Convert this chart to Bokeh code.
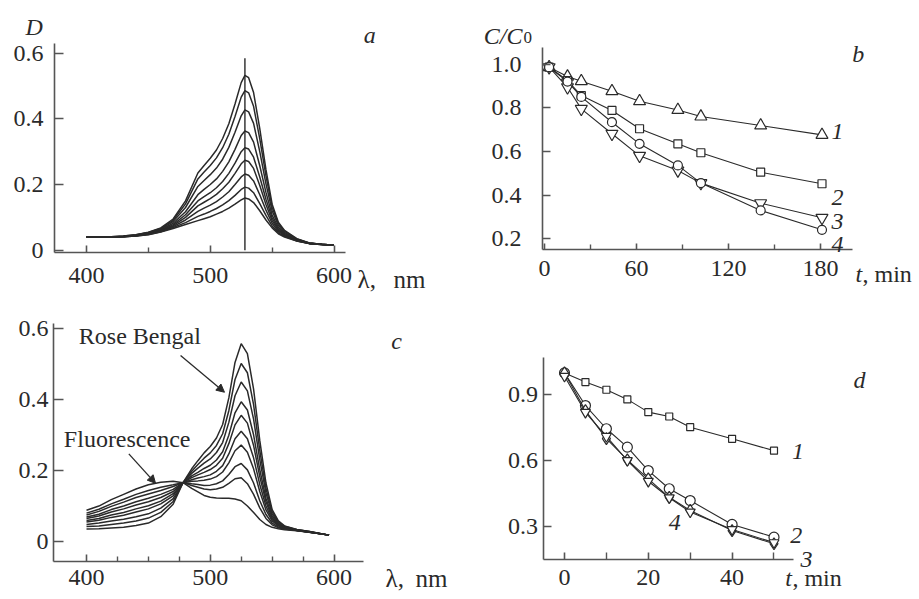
from bokeh.plotting import figure
from bokeh.models import (FixedTicker, Label, Arrow, NormalHead, Range1d, PrintfTickFormatter)
from bokeh.layouts import column, row
from bokeh.embed import file_html
from bokeh.resources import INLINE

SERIF = "Liberation Serif"
INK = "#2a2a2a"
AXIS = "#555555"

# ---------------- panel a : absorption spectra during irradiation ----------------
a_wl = [400, 410, 420, 430, 440, 450, 460, 470, 480, 490, 495, 500, 505, 510, 515,
        520, 525, 528, 531, 535, 540, 545, 550, 555, 560, 570, 580, 590, 600]
a_D1 = [0.040, 0.040, 0.041, 0.043, 0.047, 0.055, 0.068, 0.095, 0.150, 0.235, 0.258, 0.280, 0.305, 0.340, 0.385,
        0.445, 0.510, 0.532, 0.525, 0.480, 0.370, 0.245, 0.140, 0.085, 0.060, 0.035, 0.022, 0.018, 0.015]
a_D2 = [0.040, 0.040, 0.041, 0.043, 0.047, 0.054, 0.066, 0.091, 0.141, 0.217, 0.238, 0.258, 0.281, 0.312, 0.353,
        0.407, 0.466, 0.486, 0.479, 0.438, 0.339, 0.226, 0.131, 0.081, 0.058, 0.034, 0.022, 0.018, 0.015]
a_D3 = [0.040, 0.040, 0.041, 0.042, 0.046, 0.053, 0.064, 0.087, 0.130, 0.194, 0.212, 0.230, 0.250, 0.277, 0.313,
        0.359, 0.409, 0.427, 0.421, 0.386, 0.300, 0.202, 0.120, 0.075, 0.054, 0.033, 0.021, 0.018, 0.015]
a_D4 = [0.040, 0.040, 0.041, 0.042, 0.045, 0.051, 0.062, 0.082, 0.117, 0.169, 0.185, 0.200, 0.217, 0.240, 0.269,
        0.307, 0.349, 0.363, 0.358, 0.329, 0.257, 0.176, 0.107, 0.069, 0.051, 0.032, 0.021, 0.018, 0.015]
a_D5 = [0.040, 0.040, 0.040, 0.042, 0.045, 0.050, 0.060, 0.078, 0.108, 0.150, 0.163, 0.175, 0.190, 0.209, 0.234,
        0.265, 0.300, 0.312, 0.308, 0.283, 0.223, 0.155, 0.098, 0.064, 0.048, 0.031, 0.021, 0.017, 0.015]
a_D6 = [0.040, 0.040, 0.040, 0.042, 0.044, 0.049, 0.059, 0.075, 0.100, 0.135, 0.146, 0.157, 0.170, 0.187, 0.207,
        0.234, 0.263, 0.274, 0.270, 0.249, 0.197, 0.139, 0.090, 0.061, 0.046, 0.030, 0.021, 0.017, 0.015]
a_D7 = [0.040, 0.040, 0.040, 0.041, 0.044, 0.049, 0.058, 0.072, 0.092, 0.118, 0.128, 0.137, 0.148, 0.162, 0.178,
        0.200, 0.223, 0.232, 0.228, 0.211, 0.169, 0.122, 0.082, 0.057, 0.044, 0.029, 0.020, 0.017, 0.015]
a_D8 = [0.040, 0.040, 0.040, 0.041, 0.043, 0.048, 0.056, 0.069, 0.084, 0.103, 0.110, 0.118, 0.127, 0.138, 0.151,
        0.167, 0.185, 0.192, 0.189, 0.175, 0.142, 0.106, 0.074, 0.053, 0.042, 0.028, 0.020, 0.017, 0.015]
a_D9 = [0.040, 0.040, 0.040, 0.041, 0.043, 0.047, 0.055, 0.066, 0.078, 0.090, 0.096, 0.102, 0.110, 0.118, 0.128,
        0.140, 0.153, 0.159, 0.156, 0.145, 0.120, 0.092, 0.068, 0.050, 0.040, 0.028, 0.020, 0.017, 0.015]
a_curves = [a_D1, a_D2, a_D3, a_D4, a_D5, a_D6, a_D7, a_D8, a_D9]
a_peak_nm = 528
a_marker_top = 0.584
a_xticks = [400, 500, 600]
a_xminor = [450, 550]
a_yticks = [0, 0.2, 0.4, 0.6]

# ---------------- panel b : C/C0 vs time (min) ----------------
b_t = [3, 15, 24, 44, 62, 87, 102, 141, 181]
b_1 = [0.986, 0.943, 0.922, 0.876, 0.830, 0.790, 0.760, 0.719, 0.676]
b_2 = [0.986, 0.925, 0.856, 0.788, 0.704, 0.635, 0.594, 0.505, 0.452]
b_3 = [0.986, 0.894, 0.795, 0.681, 0.580, 0.513, 0.455, 0.363, 0.296]
b_4 = [0.986, 0.920, 0.850, 0.734, 0.635, 0.536, 0.455, 0.330, 0.241]
b_xticks = [0, 60, 120, 180]
b_xminor = [30, 90, 150]
b_yticks = [0.2, 0.4, 0.6, 0.8, 1.0]

# ---------------- panel c : spectra with fluorescence ----------------
c_wl = [400, 410, 420, 430, 440, 450, 460, 470, 478, 485, 490, 495, 500, 505, 510,
        515, 520, 525, 530, 535, 540, 545, 550, 555, 560, 570, 580, 596]
c_A1 = [0.035, 0.036, 0.038, 0.040, 0.045, 0.052, 0.070, 0.105, 0.166, 0.205, 0.228, 0.250, 0.268, 0.292, 0.330,
        0.405, 0.505, 0.558, 0.530, 0.430, 0.285, 0.165, 0.090, 0.058, 0.044, 0.034, 0.028, 0.018]
c_A2 = [0.042, 0.044, 0.048, 0.052, 0.058, 0.066, 0.082, 0.113, 0.166, 0.198, 0.217, 0.235, 0.250, 0.271, 0.304,
        0.369, 0.457, 0.502, 0.476, 0.386, 0.257, 0.150, 0.084, 0.055, 0.043, 0.033, 0.028, 0.018]
c_A3 = [0.048, 0.052, 0.058, 0.063, 0.070, 0.078, 0.094, 0.121, 0.166, 0.192, 0.207, 0.221, 0.233, 0.251, 0.279,
        0.336, 0.411, 0.450, 0.425, 0.345, 0.231, 0.137, 0.078, 0.053, 0.041, 0.033, 0.028, 0.018]
c_A4 = [0.055, 0.060, 0.068, 0.074, 0.083, 0.092, 0.106, 0.129, 0.166, 0.185, 0.195, 0.206, 0.215, 0.230, 0.253,
        0.300, 0.363, 0.394, 0.371, 0.301, 0.203, 0.122, 0.072, 0.050, 0.040, 0.032, 0.027, 0.018]
c_A5 = [0.059, 0.065, 0.075, 0.082, 0.092, 0.101, 0.114, 0.135, 0.166, 0.180, 0.188, 0.195, 0.203, 0.215, 0.235,
        0.276, 0.329, 0.356, 0.334, 0.271, 0.183, 0.112, 0.067, 0.048, 0.039, 0.032, 0.027, 0.018]
c_A6 = [0.065, 0.072, 0.083, 0.092, 0.103, 0.112, 0.124, 0.141, 0.166, 0.174, 0.179, 0.183, 0.188, 0.198, 0.214,
        0.247, 0.290, 0.311, 0.290, 0.236, 0.161, 0.100, 0.062, 0.046, 0.038, 0.032, 0.027, 0.018]
c_A7 = [0.069, 0.077, 0.090, 0.100, 0.112, 0.122, 0.133, 0.147, 0.166, 0.170, 0.171, 0.173, 0.176, 0.183, 0.196,
        0.222, 0.256, 0.272, 0.252, 0.205, 0.141, 0.089, 0.058, 0.044, 0.037, 0.031, 0.027, 0.018]
c_A8 = [0.075, 0.085, 0.099, 0.111, 0.124, 0.134, 0.144, 0.155, 0.166, 0.163, 0.161, 0.158, 0.159, 0.163, 0.171,
        0.189, 0.211, 0.220, 0.202, 0.165, 0.115, 0.076, 0.052, 0.041, 0.036, 0.031, 0.026, 0.018]
c_A9 = [0.080, 0.091, 0.106, 0.119, 0.133, 0.144, 0.153, 0.160, 0.166, 0.158, 0.153, 0.148, 0.146, 0.148, 0.153,
        0.164, 0.177, 0.180, 0.163, 0.133, 0.095, 0.065, 0.047, 0.039, 0.035, 0.031, 0.026, 0.018]
c_A10 = [0.088, 0.100, 0.118, 0.133, 0.148, 0.160, 0.167, 0.170, 0.166, 0.150, 0.140, 0.130, 0.125, 0.123, 0.122,
         0.122, 0.120, 0.115, 0.100, 0.082, 0.062, 0.048, 0.040, 0.036, 0.033, 0.030, 0.026, 0.018]
c_curves = [c_A1, c_A2, c_A3, c_A4, c_A5, c_A6, c_A7, c_A8, c_A9, c_A10]
c_xticks = [400, 500, 600]
c_xminor = [425, 450, 475, 525, 550, 575]
c_yticks = [0, 0.2, 0.4, 0.6]

# ---------------- panel d : C/C0 vs time (min) ----------------
d_t = [0, 5, 10, 15, 20, 25, 30, 40, 50]
d_1 = [1.000, 0.958, 0.923, 0.879, 0.821, 0.801, 0.752, 0.699, 0.645]
d_2 = [1.000, 0.851, 0.745, 0.661, 0.554, 0.471, 0.417, 0.308, 0.250]
d_3 = [1.000, 0.828, 0.700, 0.603, 0.516, 0.432, 0.372, 0.280, 0.220]
d_4 = [0.985, 0.820, 0.710, 0.600, 0.505, 0.430, 0.365, 0.285, 0.225]
d_xticks = [0, 20, 40]
d_xminor = [10, 30, 50]
d_yticks = [0.3, 0.6, 0.9]

FS = "24px"
LIFT = 6       # px: Label baseline correction
LIFT_LOW = 17  # px: bottom-row axis titles, kept level with the tick labels


def make_fig(w, h, xr, yr):
    p = figure(width=w, height=h, x_range=Range1d(*xr), y_range=Range1d(*yr),
               output_backend="svg", toolbar_location=None, tools="",
               min_border_left=0, min_border_right=0, min_border_top=0, min_border_bottom=0)
    p.outline_line_color = None
    p.grid.visible = False
    p.background_fill_color = "white"
    p.border_fill_color = "white"
    return p


def style_axes(p, xb, yb, xticks, xminor, yticks, xstand, ystand, ylen, xlen, xmlen,
               yover=None, yfmt=None):
    xa, ya = p.xaxis[0], p.yaxis[0]
    # axis lines sit inside the plot area: x axis at the bottom of the y bounds, etc.
    xa.fixed_location = yb[0]
    ya.fixed_location = xb[0]
    xa.bounds = xb
    ya.bounds = yb
    xa.ticker = FixedTicker(ticks=xticks, minor_ticks=xminor)
    ya.ticker = FixedTicker(ticks=yticks)
    for ax in (xa, ya):
        ax.axis_line_color = AXIS
        ax.axis_line_width = 1.6
        ax.major_tick_line_color = AXIS
        ax.major_tick_line_width = 1.6
        ax.minor_tick_line_color = AXIS
        ax.minor_tick_line_width = 1.4
        ax.major_tick_out = 0
        ax.minor_tick_out = 0
        ax.major_label_text_font = SERIF
        ax.major_label_text_font_size = FS
        ax.major_label_text_color = INK
    xa.major_tick_in = xlen
    xa.minor_tick_in = xmlen
    ya.major_tick_in = ylen
    ya.minor_tick_in = 0
    xa.major_label_standoff = xstand
    ya.major_label_standoff = ystand
    if yfmt:
        ya.formatter = PrintfTickFormatter(format=yfmt)
    if yover:
        ya.major_label_overrides = yover


def txt(p, x, y, s, italic=False, size=FS, lift=LIFT):
    p.add_layout(Label(x=x, y=y, y_offset=lift, text=s, text_font=SERIF, text_font_size=size,
                       text_font_style="italic" if italic else "normal",
                       text_color=INK, text_align="left", text_baseline="alphabetic"))


# ---------- a ----------
fa = make_fig(460, 300, (330.5, 702.2), (-0.1531, 0.7601))
style_axes(fa, (374.1, 609.3), (-0.007, 0.629), a_xticks, a_xminor, a_yticks,
           15, 11, 9, 7, 5, yover={0: "0"})
for cv in a_curves:
    fa.line(a_wl, cv, line_color=INK, line_width=1.5)
fa.line([a_peak_nm, a_peak_nm], [0, a_marker_top], line_color=INK, line_width=1.4)
txt(fa, 350.7, 0.660, "D", italic=True)
txt(fa, 624.1, 0.638, "a", italic=True)
txt(fa, 619.0, -0.1075, "λ,", size="25px")
txt(fa, 648.1, -0.1075, "nm", size="25px")

# ---------- b ----------
fb = make_fig(457, 300, (-54.8, 243.3), (-0.0827, 1.2915))
style_axes(fb, (-1.3, 200.9), (0.151, 1.076), b_xticks, b_xminor, b_yticks,
           12, 21, 8, 6, 5, yfmt="%.1f")
for ys, mk, sz in ((b_1, "triangle", 12), (b_2, "square", 8),
                   (b_3, "inverted_triangle", 12), (b_4, "circle", 9)):
    fb.line(b_t, ys, line_color=INK, line_width=1.1)
    fb.scatter(b_t, ys, marker=mk, size=sz, fill_color="white", line_color=INK, line_width=1.2)
txt(fb, -39.6, 1.101, "C/C", italic=True)
txt(fb, -13.7, 1.093, "0", size="17px")
txt(fb, 200.7, 1.017, "b", italic=True)
txt(fb, 187.2, 0.664, "1", italic=True)
txt(fb, 187.2, 0.360, "2", italic=True)
txt(fb, 187.2, 0.253, "3", italic=True)
txt(fb, 187.2, 0.146, "4", italic=True)
txt(fb, 202.9, 0.009, "t", italic=True)
txt(fb, 207.4, 0.009, ", min")

# ---------- c ----------
fc = make_fig(460, 299, (330.5, 702.2), (-0.1636, 0.6798))
style_axes(fc, (373.3, 623.8), (-0.0564, 0.615), c_xticks, c_xminor, c_yticks,
           9, 5, 10, 7, 5, yover={0: "0"})
for cv in c_curves:
    fc.line(c_wl, cv, line_color=INK, line_width=1.5)
txt(fc, 646.2, 0.548, "c", italic=True)
txt(fc, 393.8, 0.562, "Rose Bengal")
txt(fc, 381.7, 0.271, "Fluorescence")
txt(fc, 641.6, -0.1523, "λ,", size="25px", lift=LIFT_LOW)
txt(fc, 665.9, -0.1523, "nm", size="25px", lift=LIFT_LOW)
fc.add_layout(Arrow(end=NormalHead(size=8, fill_color=INK, line_color=INK),
                    x_start=476.0, y_start=0.525, x_end=511.5, y_end=0.421,
                    line_color=INK, line_width=1.3))
fc.add_layout(Arrow(end=NormalHead(size=8, fill_color=INK, line_color=INK),
                    x_start=434.2, y_start=0.247, x_end=455.8, y_end=0.164,
                    line_color=INK, line_width=1.3))

# ---------- d ----------
fd = make_fig(457, 299, (-24.82, 84.25), (-0.0347, 1.3306))
style_axes(fd, (-4.9, 54.7), (0.147, 1.071), d_xticks, d_xminor, d_yticks,
           10, 6, 8, 7, 7, yfmt="%.1f")
for ys, mk, sz in ((d_1, "square", 7), (d_2, "circle", 10),
                   (d_3, "diamond", 12), (d_4, "inverted_triangle", 10)):
    fd.line(d_t, ys, line_color=INK, line_width=1.1)
    fd.scatter(d_t, ys, marker=mk, size=sz, fill_color="white", line_color=INK, line_width=1.2)
txt(fd, 69.0, 0.942, "d", italic=True)
txt(fd, 54.3, 0.615, "1", italic=True)
txt(fd, 53.9, 0.231, "2", italic=True)
txt(fd, 56.3, 0.120, "3", italic=True)
txt(fd, 24.9, 0.288, "4", italic=True)
txt(fd, 52.7, -0.0164, "t", italic=True, lift=LIFT_LOW)
txt(fd, 54.4, -0.0164, ", min", lift=LIFT_LOW)

layout = column(row(fa, fb), row(fc, fd))
open("out.html", "w").write(file_html(layout, INLINE))
